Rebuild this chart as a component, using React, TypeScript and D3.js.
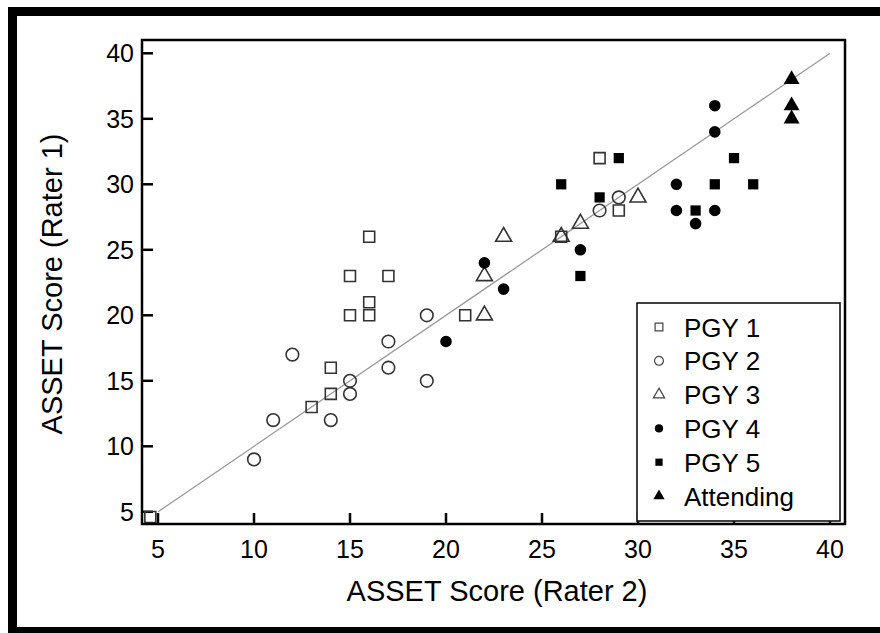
import React, { useEffect, useRef } from "react";
import * as d3 from "d3";

type Pt = [number, number];

// [Rater 2, Rater 1]
const pgy1: Pt[] = [
  [4.6, 4.6], [13, 13], [14, 14], [14, 16], [15, 20], [15, 23], [16, 20],
  [16, 21], [16, 26], [17, 23], [21, 20], [26, 26], [28, 32], [29, 28],
];
const pgy2: Pt[] = [
  [10, 9], [11, 12], [12, 17], [14, 12], [15, 14], [15, 15], [17, 16],
  [17, 18], [19, 15], [19, 20], [28, 28], [29, 29],
];
const pgy3: Pt[] = [[22, 20], [22, 23], [23, 26], [26, 26], [27, 27], [30, 29]];
const pgy4: Pt[] = [
  [20, 18], [22, 24], [23, 22], [27, 25], [32, 28], [32, 30], [33, 27],
  [34, 28], [34, 34], [34, 36],
];
const pgy5: Pt[] = [
  [26, 30], [27, 23], [28, 29], [29, 32], [33, 28], [34, 30], [35, 32], [36, 30],
];
const attending: Pt[] = [[38, 35], [38, 36], [38, 38]];

const groupNames = ["PGY 1", "PGY 2", "PGY 3", "PGY 4", "PGY 5", "Attending"];
const tickValues = [5, 10, 15, 20, 25, 30, 35, 40];
const identityLine: Pt[] = [[5, 5], [40, 40]];

const App: React.FC = () => {
  const svgRef = useRef<SVGSVGElement | null>(null);

  useEffect(() => {
    if (!svgRef.current) return;
    const svg = d3.select(svgRef.current);
    svg.selectAll("*").remove();

    const width = 880;
    const height = 633;
    const left = 142;
    const right = 845;
    const top = 40;
    const bottom = 524;
    const font = "'Liberation Sans', Arial, sans-serif";

    svg.attr("width", width).attr("height", height);

    svg.append("rect").attr("width", width).attr("height", height).attr("fill", "#fff");
    // outer black frame (runs off the right/bottom of the picture)
    svg
      .append("rect")
      .attr("x", 12.5)
      .attr("y", 11.5)
      .attr("width", 900)
      .attr("height", 620)
      .attr("fill", "none")
      .attr("stroke", "#000")
      .attr("stroke-width", 9);

    const x = d3.scaleLinear().domain([5, 40]).range([158, 830]);
    const y = d3.scaleLinear().domain([5, 40]).range([511.8, 53.3]);

    // ticks (inward)
    const tickLen = 11;
    svg
      .append("g")
      .selectAll("line")
      .data(tickValues)
      .join("line")
      .attr("x1", (d) => x(d))
      .attr("x2", (d) => x(d))
      .attr("y1", bottom)
      .attr("y2", bottom - tickLen)
      .attr("stroke", "#000")
      .attr("stroke-width", 2.5);
    svg
      .append("g")
      .selectAll("line")
      .data(tickValues)
      .join("line")
      .attr("y1", (d) => y(d))
      .attr("y2", (d) => y(d))
      .attr("x1", left)
      .attr("x2", left + tickLen)
      .attr("stroke", "#000")
      .attr("stroke-width", 2.5);

    // tick labels
    svg
      .append("g")
      .selectAll("text")
      .data(tickValues)
      .join("text")
      .attr("x", (d) => x(d))
      .attr("y", 558)
      .attr("text-anchor", "middle")
      .attr("font-family", font)
      .attr("font-size", 25)
      .text((d) => d);
    svg
      .append("g")
      .selectAll("text")
      .data(tickValues)
      .join("text")
      .attr("x", 134)
      .attr("y", (d) => y(d) + 9)
      .attr("text-anchor", "end")
      .attr("font-family", font)
      .attr("font-size", 25)
      .text((d) => d);

    // axis titles
    svg
      .append("text")
      .attr("x", 497)
      .attr("y", 601)
      .attr("text-anchor", "middle")
      .attr("font-family", font)
      .attr("font-size", 29)
      .text("ASSET Score (Rater 2)");
    svg
      .append("text")
      .attr("transform", "translate(62,284) rotate(-90)")
      .attr("text-anchor", "middle")
      .attr("font-family", font)
      .attr("font-size", 29)
      .text("ASSET Score (Rater 1)");

    // identity line
    svg
      .append("path")
      .datum(identityLine)
      .attr("fill", "none")
      .attr("stroke", "#9a9a9a")
      .attr("stroke-width", 1.3)
      .attr(
        "d",
        d3
          .line<Pt>()
          .x((d) => x(d[0]))
          .y((d) => y(d[1]))
      );

    const shapes = [
      { data: pgy1, sym: d3.symbolSquare, size: 120, filled: false },
      { data: pgy2, sym: d3.symbolCircle, size: 125, filled: false },
      { data: pgy3, sym: d3.symbolTriangle, size: 110, filled: false },
      { data: pgy4, sym: d3.symbolCircle, size: 105, filled: true },
      { data: pgy5, sym: d3.symbolSquare, size: 105, filled: true },
      { data: attending, sym: d3.symbolTriangle, size: 110, filled: true },
    ];

    const marks = svg.append("g");
    shapes.forEach((s) => {
      marks
        .append("g")
        .selectAll("path")
        .data(s.data)
        .join("path")
        .attr("transform", (d) => `translate(${x(d[0])},${y(d[1])})`)
        .attr("d", d3.symbol(s.sym, s.size)())
        .attr("fill", s.filled ? "#000" : "none")
        .attr("stroke", s.filled ? "none" : "#333")
        .attr("stroke-width", 1.6);
    });

    // legend
    const lg = svg.append("g");
    lg.append("rect")
      .attr("x", 637)
      .attr("y", 303)
      .attr("width", 203)
      .attr("height", 218)
      .attr("fill", "#fff")
      .attr("stroke", "#111")
      .attr("stroke-width", 1.6);
    const rowY = d3.scaleLinear().domain([0, 5]).range([327, 496]);
    groupNames.forEach((name, i) => {
      const s = shapes[i];
      lg.append("path")
        .attr("transform", `translate(659,${rowY(i)})`)
        .attr("d", d3.symbol(s.sym, s.size * 0.5)())
        .attr("fill", s.filled ? "#000" : "none")
        .attr("stroke", s.filled ? "none" : "#444")
        .attr("stroke-width", 1.2);
      lg.append("text")
        .attr("x", 684)
        .attr("y", rowY(i) + 9.5)
        .attr("font-family", font)
        .attr("font-size", 26)
        .text(name);
    });

    // plot frame
    svg
      .append("rect")
      .attr("x", left)
      .attr("y", top)
      .attr("width", right - left)
      .attr("height", bottom - top)
      .attr("fill", "none")
      .attr("stroke", "#000")
      .attr("stroke-width", 2.5);
  }, []);

  return (
    <svg
      ref={svgRef}
      style={{ position: "absolute", left: 0, top: 0, display: "block" }}
    ></svg>
  );
};

export default App;
